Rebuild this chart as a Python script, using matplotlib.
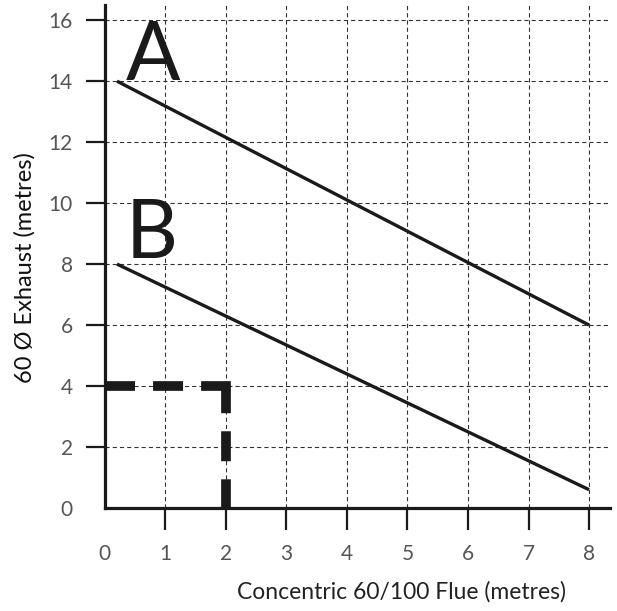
import matplotlib
matplotlib.use("Agg")
import matplotlib.pyplot as plt

# curve A and B (flue length vs exhaust length)
a_x = [0.2, 8.0]
a_y = [14.0, 6.0]
b_x = [0.2, 8.0]
b_y = [8.0, 0.6]

# example reading marked with the heavy dashed L
ex_x = [0, 2, 2]
ex_y = [4, 4, 0]

x_ticks = [0, 1, 2, 3, 4, 5, 6, 7, 8]
y_ticks = [0, 2, 4, 6, 8, 10, 12, 14, 16]

plt.rcParams['font.family'] = ['Lato', 'DejaVu Sans']
plt.rcParams['lines.scale_dashes'] = False

fig = plt.figure(figsize=(6.17, 6.11), dpi=100)
ax = fig.add_axes([0.170, 0.1686, 0.819, 0.8233])
ax.set_xlim(0, 8.35)
ax.set_ylim(0, 16.5)

ax.grid(True, color='#333333', linewidth=0.8, linestyle=(0, (3, 2.2)))
ax.set_axisbelow(True)

ax.plot(a_x, a_y, color='#1a1a1a', linewidth=2.4, solid_capstyle='butt')
ax.plot(b_x, b_y, color='#1a1a1a', linewidth=2.4, solid_capstyle='butt')
ax.plot(ex_x, ex_y, color='#1a1a1a', linewidth=7,
        linestyle=(0, (21.6, 13, 21.6, 13, 37.5, 13, 21.6, 13, 21.6, 13)),
        dash_capstyle='butt', dash_joinstyle='miter')

ax.text(0.8, 14.05, 'A', fontsize=58, ha='center', va='baseline', color='#1a1a1a')
ax.text(0.78, 8.2, 'B', fontsize=58, ha='center', va='baseline', color='#1a1a1a')

ax.set_xticks(x_ticks)
ax.set_yticks(y_ticks)
ax.tick_params(axis='x', length=16, width=1.6, pad=10, labelsize=15,
               labelcolor='#555555', color='#1a1a1a')
ax.tick_params(axis='y', length=14, width=1.6, pad=9, labelsize=15,
               labelcolor='#555555', color='#1a1a1a')
ax.xaxis.get_major_ticks()[0].tick1line.set_visible(False)
ax.yaxis.get_major_ticks()[0].tick1line.set_visible(False)

for s in ['top', 'right']:
    ax.spines[s].set_visible(False)
for s in ['left', 'bottom']:
    ax.spines[s].set_linewidth(2.3)
    ax.spines[s].set_color('#1a1a1a')

ax.set_xlabel('Concentric 60/100 Flue (metres)', fontsize=16.5, color='#222222', va='center')
ax.set_ylabel('60 Ø Exhaust (metres)', fontsize=17, color='#111111', va='center')
ax.xaxis.set_label_coords(0.586, -0.167)
ax.yaxis.set_label_coords(-0.158, 0.477)

fig.savefig('out.png', dpi=100)
